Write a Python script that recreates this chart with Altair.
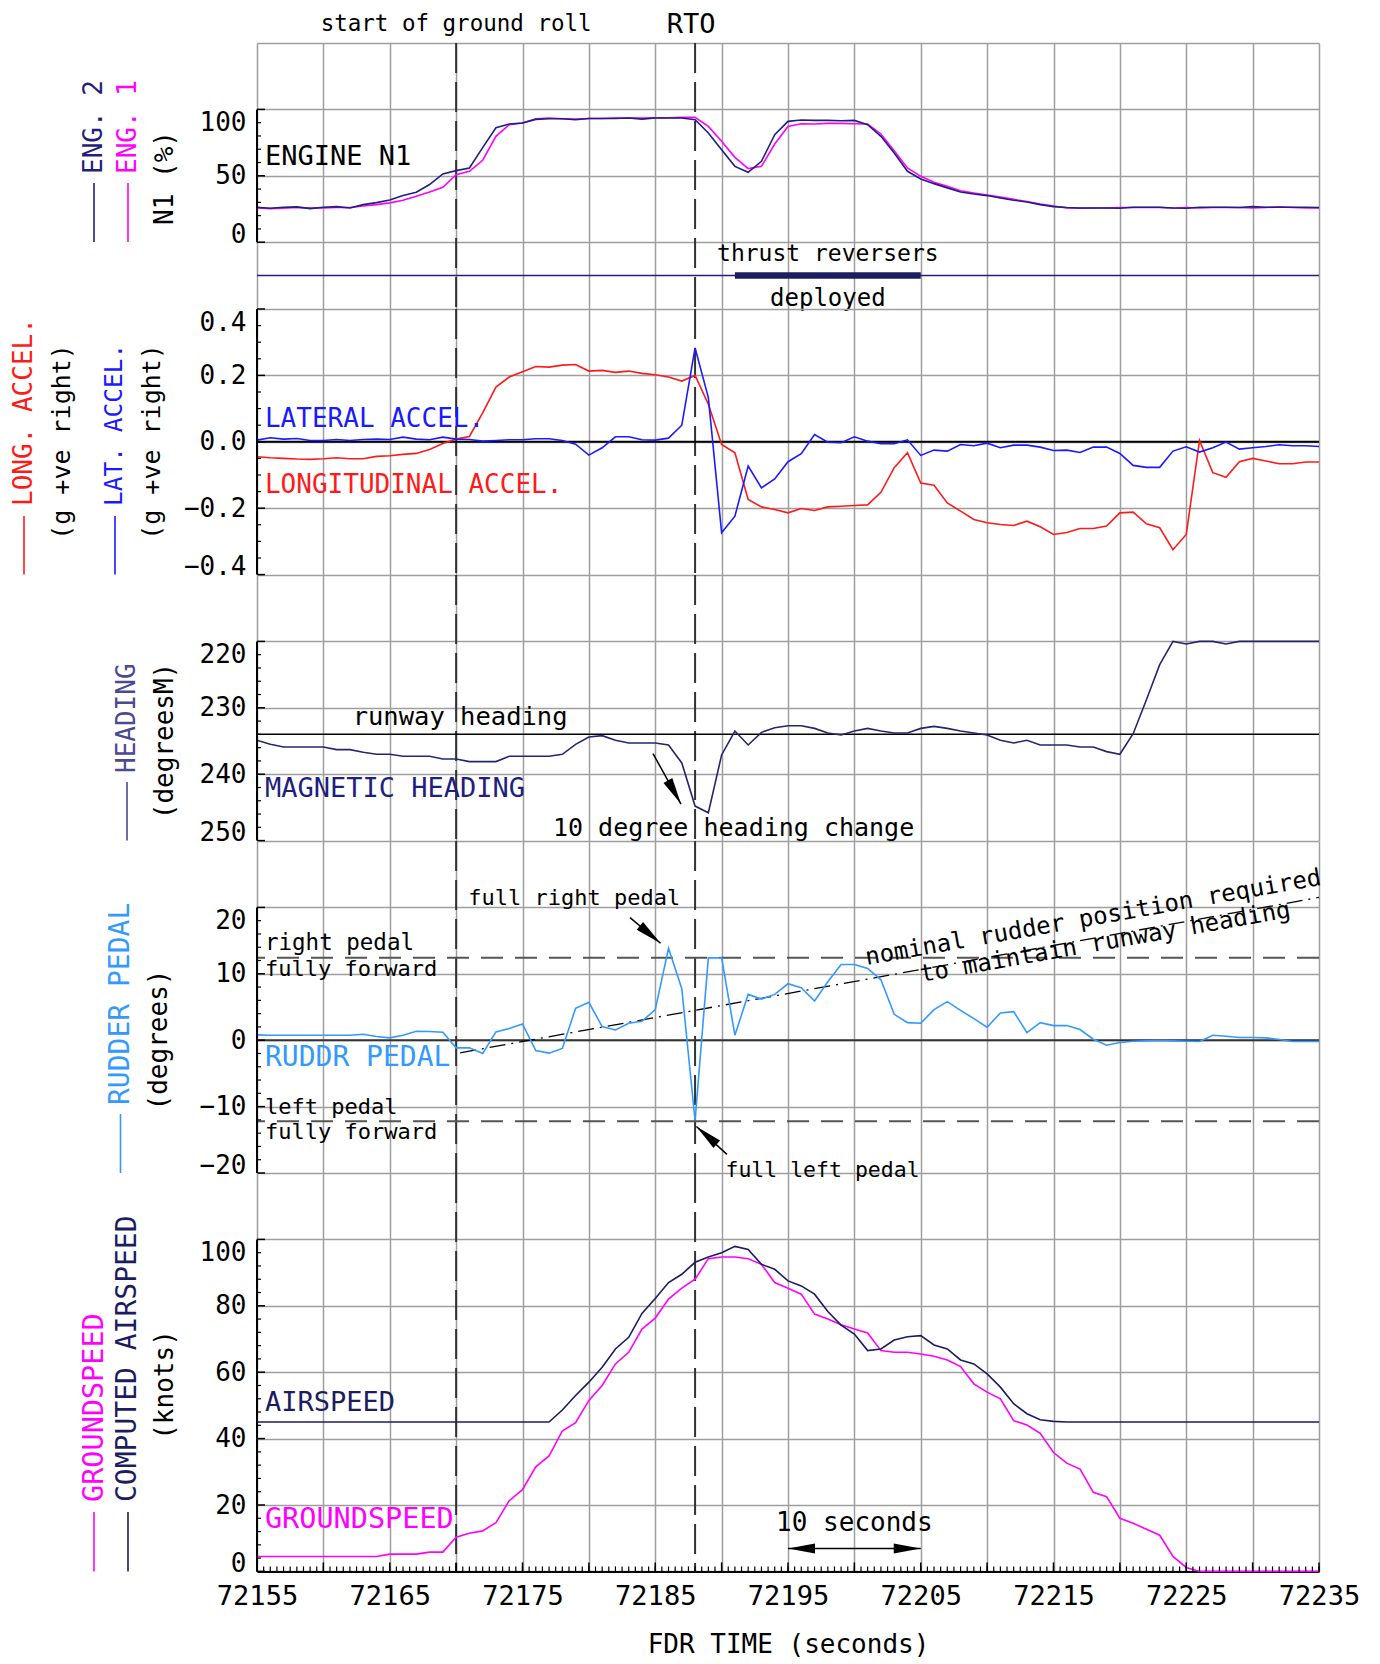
import altair as alt
import pandas as pd

# ---------------- data (1 s FDR samples) ----------------
t = list(range(72155, 72236))

eng1_n1 = [25.8, 25.3, 25.6, 26.1, 25.8, 25.8, 26.1, 26.1, 27.3, 28.3,
           29.6, 31.6, 34.6, 37.8, 41.4, 50.9, 53.4, 61.7, 79.7, 88.5,
           89.7, 93.0, 93.5, 93.0, 92.7, 93.2, 93.2, 93.5, 93.5, 93.5,
           93.7, 93.7, 94.0, 94.0, 87.2, 76.0, 63.9, 55.4, 57.1, 73.9,
           87.2, 89.2, 89.0, 89.5, 89.5, 89.2, 89.0, 81.5, 68.9, 55.9,
           49.6, 45.1, 42.1, 38.8, 37.1, 35.6, 34.1, 32.3, 30.6, 28.8,
           27.3, 25.8, 25.6, 25.8, 25.8, 26.1, 26.1, 26.1, 26.1, 25.8,
           26.1, 25.8, 26.1, 26.1, 26.1, 25.8, 26.1, 26.6, 26.1, 25.8,
           25.8]
eng2_n1 = [26.3, 25.6, 26.3, 26.6, 25.3, 26.3, 26.8, 25.8, 28.3, 29.8,
           31.8, 35.1, 37.6, 43.4, 51.4, 53.9, 55.9, 71.2, 86.2, 89.0,
           89.7, 92.5, 93.0, 93.0, 92.2, 93.2, 93.2, 93.2, 93.5, 92.7,
           93.5, 93.5, 93.5, 92.2, 82.2, 69.7, 57.1, 52.6, 60.9, 81.0,
           91.0, 92.0, 91.7, 91.7, 91.5, 91.7, 88.5, 79.7, 67.2, 53.4,
           47.6, 44.1, 40.9, 37.8, 36.3, 35.1, 33.3, 31.6, 30.3, 28.3,
           26.8, 26.1, 25.8, 25.8, 25.8, 25.6, 26.3, 26.3, 26.3, 25.8,
           25.6, 26.3, 26.3, 26.3, 26.1, 26.8, 26.3, 26.3, 26.3, 26.3,
           26.1]
long_accel = [-0.045, -0.048, -0.050, -0.052, -0.053, -0.051, -0.048, -0.051, -0.051, -0.044,
              -0.042, -0.038, -0.035, -0.023, -0.005, 0.008, 0.016, 0.087, 0.165, 0.195,
              0.211, 0.227, 0.225, 0.231, 0.233, 0.213, 0.215, 0.209, 0.213, 0.206,
              0.202, 0.195, 0.183, 0.200, 0.113, -0.008, -0.033, -0.174, -0.196, -0.204,
              -0.214, -0.201, -0.207, -0.196, -0.194, -0.192, -0.190, -0.152, -0.078, -0.033,
              -0.124, -0.131, -0.184, -0.209, -0.234, -0.244, -0.249, -0.252, -0.239, -0.256,
              -0.279, -0.273, -0.261, -0.261, -0.254, -0.214, -0.212, -0.247, -0.259, -0.325,
              -0.279, 0.004, -0.093, -0.107, -0.060, -0.050, -0.058, -0.066, -0.066, -0.061,
              -0.061]
lat_accel = [0.005, 0.012, 0.008, 0.010, 0.004, 0.004, 0.007, 0.004, 0.007, 0.008,
             0.007, 0.014, 0.008, 0.006, 0.014, 0.008, 0.007, 0.002, 0.004, 0.006,
             0.006, 0.009, 0.009, 0.004, -0.007, -0.040, -0.018, 0.015, 0.015, 0.006,
             0.005, 0.011, 0.050, 0.283, 0.133, -0.274, -0.224, -0.073, -0.139, -0.112,
             -0.060, -0.036, 0.022, -0.001, -0.003, 0.015, 0.002, -0.006, -0.006, 0.006,
             -0.041, -0.025, -0.028, -0.008, -0.012, -0.004, -0.018, -0.010, -0.010, -0.016,
             -0.026, -0.025, -0.032, -0.016, -0.016, -0.035, -0.071, -0.077, -0.077, -0.028,
             -0.015, -0.031, -0.018, -0.001, -0.022, -0.018, -0.014, -0.009, -0.012, -0.012,
             -0.014]
mag_heading = [234.9, 235.5, 235.9, 235.9, 235.9, 235.9, 236.3, 236.3, 236.7, 237.0,
               237.0, 237.3, 237.3, 237.3, 237.7, 237.7, 238.1, 238.1, 238.1, 237.3,
               237.3, 237.3, 237.3, 237.0, 235.5, 234.4, 234.2, 234.9, 235.3, 235.3,
               235.3, 235.6, 238.3, 244.8, 245.8, 237.1, 233.5, 235.6, 233.7, 233.0,
               232.7, 232.7, 233.1, 233.8, 234.1, 233.5, 233.1, 233.5, 233.8, 233.8,
               233.1, 232.8, 233.1, 233.5, 233.8, 234.1, 234.9, 235.3, 234.9, 235.6,
               235.6, 235.6, 235.9, 235.9, 236.6, 237.0, 233.9, 228.8, 223.5, 220.0,
               220.4, 220.0, 220.0, 220.4, 220.0, 220.0, 220.0, 220.0, 220.0, 220.0,
               220.0]
rudder_pedal = [0.8, 0.75, 0.75, 0.75, 0.75, 0.75, 0.75, 0.75, 0.9, 0.55,
                0.35, 0.75, 1.35, 1.3, 1.2, -1.15, -1.15, -2.0, 1.25, 1.75,
                2.45, -1.55, -1.95, -1.25, 4.8, 5.7, 2.05, 1.55, 2.55, 2.85,
                4.6, 13.85, 7.75, -12.1, 12.4, 12.4, 0.75, 6.9, 6.2, 6.9,
                8.5, 7.9, 5.9, 8.8, 11.4, 11.4, 10.8, 9.1, 3.9, 2.65,
                2.55, 4.6, 5.8, 4.5, 3.25, 1.95, 4.1, 4.3, 1.15, 2.65,
                2.2, 2.2, 1.6, 0.15, -0.75, -0.35, -0.15, -0.1, -0.05, -0.1,
                -0.15, -0.2, 0.75, 0.6, 0.4, 0.4, 0.35, 0.1, -0.2, -0.2,
                -0.2]
airspeed = [45.0, 45.0, 45.0, 45.0, 45.0, 45.0, 45.0, 45.0, 45.0, 45.0,
            45.0, 45.0, 45.0, 45.0, 45.0, 45.0, 45.0, 45.0, 45.0, 45.0,
            45.0, 45.0, 45.0, 48.6, 53.0, 57.0, 61.5, 67.0, 70.5, 77.7,
            82.2, 87.0, 89.5, 93.1, 94.7, 96.0, 97.9, 97.0, 92.5, 91.0,
            87.5, 86.0, 83.5, 78.3, 74.2, 71.5, 66.5, 67.0, 69.7, 70.7,
            71.0, 68.2, 67.0, 63.7, 62.5, 59.5, 55.5, 50.5, 47.5, 45.7,
            45.2, 45.0, 45.0, 45.0, 45.0, 45.0, 45.0, 45.0, 45.0, 45.0,
            45.0, 45.0, 45.0, 45.0, 45.0, 45.0, 45.0, 45.0, 45.0, 45.0,
            45.0]
groundspeed = [4.5, 4.5, 4.5, 4.5, 4.5, 4.5, 4.5, 4.5, 4.5, 4.5,
               5.2, 5.2, 5.2, 5.8, 5.8, 10.3, 11.5, 12.2, 14.7, 21.3,
               24.6, 31.5, 34.8, 42.3, 44.8, 51.5, 56.0, 62.5, 66.0, 73.0,
               76.3, 82.0, 85.3, 88.0, 94.2, 94.7, 94.7, 94.2, 92.5, 87.0,
               85.3, 83.5, 77.5, 76.0, 74.3, 73.0, 71.8, 66.5, 66.0, 66.0,
               65.5, 64.8, 63.7, 61.7, 56.5, 54.0, 52.0, 45.4, 44.1, 41.6,
               35.8, 32.6, 30.8, 23.8, 22.5, 16.0, 14.5, 12.7, 10.9, 4.5,
               1.2, 0.0, 0.0, 0.0, 0.0, 0.0, 0.0, 0.0, 0.0, 0.0,
               0.0]

# events / reference values
event_t = [72170, 72188]
event_labels = ["start of ground roll", "RTO"]
event_label_t = [72170, 72187.7]
reverser_t = [72191, 72205]
reverser_level = -25
runway_heading = 234.0
pedal_full_right = 12.4
pedal_full_left = -12.2
nominal_t = [72170.3, 72235]
nominal_v = [-1.9, 21.5]

# ---------------- style ----------------
FONT = "DejaVu Sans Mono"
ROW = 66.4
W = 1062
T0, T1 = 72155, 72235
TL = 72155.6  # left-aligned annotation position
GRIDC = "#9e9e9e"
NAVY = "#1f1f80"
MAGENTA = "#ff00ff"
RED = "#ff1a1a"
BLUE = "#1a1aff"
LBLUE = "#3399ff"
HNAVY = "#26266e"
HTITLE = "#4a4a90"
ANAVY = "#1c1c60"
ARROW_SHAPE = "M0,0L0.37,2L-0.37,2Z"

X_GRID = list(range(T0, T1 + 1, 5))
X_MINOR = [T0 + 0.5 * i for i in range(161)]

xs = alt.Scale(domain=[T0, T1], nice=False, zero=False)


def xaxis(bottom):
    if bottom:
        return alt.Axis(values=X_GRID, grid=True, gridColor=GRIDC, gridWidth=1.5,
                        domain=True, domainColor="black", domainWidth=2, ticks=False,
                        labels=True, labelExpr="datum.value % 10 == 5 ? datum.label : ''",
                        format="d", labelFont=FONT, labelFontSize=27, labelColor="black",
                        labelPadding=12, labelFlush=False, labelOverlap=False,
                        title="FDR TIME (seconds)", titleFont=FONT, titleFontSize=26,
                        titleFontWeight="normal", titleColor="black", titlePadding=22)
    return alt.Axis(values=X_GRID, grid=True, gridColor=GRIDC, gridWidth=1.5,
                    domain=False, ticks=False, labels=False, title=None)


def yaxis(s):
    return alt.Axis(values=s["grid"], grid=True, gridColor=GRIDC, gridWidth=1.5,
                    domain=False, ticks=False,
                    labelExpr=f"indexof({s['labels']}, datum.value) >= 0 ? datum.label : ''",
                    format=s["fmt"], labelFont=FONT, labelFontSize=26, labelColor="black",
                    labelPadding=11, labelFlush=False, labelOverlap=False,
                    labelBaseline={"condition": [
                        {"test": f"datum.value == {s['top']}", "value": "top"},
                        {"test": f"datum.value == {s['bottom']}", "value": "alphabetic"}],
                        "value": "middle"},
                    title=None)


def vtitle(label, px, py, color, align="left", size=26):
    df = pd.DataFrame({"label": [label]})
    return alt.Chart(df).mark_text(angle=270, align=align, baseline="middle", font=FONT,
                                   fontSize=size, color=color).encode(
        x=alt.value(px), y=alt.value(py), text="label:N")


def vbar(px, py1, py2, color):
    df = pd.DataFrame({"k": [0]})
    return alt.Chart(df).mark_rule(color=color, strokeWidth=1.6).encode(
        x=alt.value(px), y=alt.value(py1), y2=alt.value(py2))


def annot(X, Y, rows, align, angle=0):
    df = pd.DataFrame(rows, columns=["label", "t", "v", "size", "color"])
    return alt.Chart(df).mark_text(align=align, baseline="middle", font=FONT, angle=angle).encode(
        x=X("t"), y=Y("v"), text="label:N",
        size=alt.Size("size:Q", scale=None), color=alt.Color("color:N", scale=None))


def arrow(X, Y, t1, v1, t2, v2, ang):
    df = pd.DataFrame({"t1": [t1], "v1": [v1], "t2": [t2], "v2": [v2]})
    line = alt.Chart(df).mark_rule(color="black", strokeWidth=1.5).encode(
        x=X("t1"), y=Y("v1"), x2=alt.X2("t2"), y2=alt.Y2("v2"))
    head = alt.Chart(df).mark_point(shape=ARROW_SHAPE, filled=True, size=729, angle=ang,
                                    color="black", opacity=1, strokeWidth=0).encode(
        x=X("t2"), y=Y("v2"))
    return [line, head]


def panel(s, extra, bottom=False):
    ys = alt.Scale(domain=s["domain"], nice=False, zero=False, reverse=s["reverse"])
    xax = xaxis(bottom)
    yax = yaxis(s)
    X = lambda f: alt.X(f, type="quantitative", scale=xs, axis=xax)
    Y = lambda f: alt.Y(f, type="quantitative", scale=ys, axis=yax)
    h = s["rows"] * ROW
    layers = []
    layers.append(alt.Chart(pd.DataFrame({"t": event_t})).mark_rule(
        color="#333333", strokeWidth=2, strokeDash=[30, 9]).encode(x=X("t")))
    layers += extra(X, Y, h)
    layers.append(alt.Chart(pd.DataFrame({"lo": [s["axis"][0]], "hi": [s["axis"][1]]})).mark_rule(
        color="black", strokeWidth=2).encode(x=alt.value(0), y=Y("lo"), y2=alt.Y2("hi")))
    layers.append(alt.Chart(pd.DataFrame({"v": s["major"]})).mark_rule(
        color="black", strokeWidth=1.5).encode(x=alt.value(0), x2=alt.value(8), y=Y("v")))
    layers.append(alt.Chart(pd.DataFrame({"v": s["minor"]})).mark_rule(
        color="black", strokeWidth=1.2).encode(x=alt.value(0), x2=alt.value(4), y=Y("v")))
    if bottom:
        layers.append(alt.Chart(pd.DataFrame({"t": X_MINOR})).mark_rule(
            color="black", strokeWidth=1.2).encode(x=X("t"), y=alt.value(h), y2=alt.value(h - 5)))
        layers.append(alt.Chart(pd.DataFrame({"t": X_GRID})).mark_rule(
            color="black", strokeWidth=1.5).encode(x=X("t"), y=alt.value(h), y2=alt.value(h - 9)))
    return alt.layer(*layers).properties(width=W, height=h)


# ---------------- panel 1 : N1 ----------------
S1 = dict(domain=[-50, 150], rows=4, grid=[0, 50, 100, 150], labels=[0, 50, 100], fmt="d",
          top=100, bottom=0, axis=[0, 100], major=[0, 50, 100],
          minor=[10, 20, 30, 40, 60, 70, 80, 90], reverse=False)


def p1_layers(X, Y, h):
    d = pd.DataFrame({"t": t, "e1": eng1_n1, "e2": eng2_n1})
    L = []
    L.append(alt.Chart(d).mark_line(color=MAGENTA, strokeWidth=1.6).encode(x=X("t"), y=Y("e1")))
    L.append(alt.Chart(d).mark_line(color=NAVY, strokeWidth=1.6).encode(x=X("t"), y=Y("e2")))
    L.append(alt.Chart(pd.DataFrame({"v": [reverser_level]})).mark_rule(
        color=NAVY, strokeWidth=1.5).encode(y=Y("v")))
    L.append(alt.Chart(pd.DataFrame({"t1": [reverser_t[0]], "t2": [reverser_t[1]], "v": [reverser_level]}))
             .mark_rule(color=ANAVY, strokeWidth=6.5).encode(x=X("t1"), x2=alt.X2("t2"), y=Y("v")))
    L.append(annot(X, Y, [("ENGINE N1", TL, 64.1, 27, "black")], "left"))
    L.append(annot(X, Y, [("thrust reversers", 72198.0, -9.0, 23, "black"),
                          ("deployed", 72198.0, -43.0, 24, "black")], "center"))
    ev = pd.DataFrame({"t": event_label_t, "label": event_labels})
    L.append(alt.Chart(ev.iloc[[0]]).mark_text(font=FONT, fontSize=22.5, align="center", baseline="middle",
                                               color="black").encode(x=X("t"), y=alt.value(-19), text="label:N"))
    L.append(alt.Chart(ev.iloc[[1]]).mark_text(font=FONT, fontSize=27, align="center", baseline="middle",
                                               color="black").encode(x=X("t"), y=alt.value(-18), text="label:N"))
    L += [vbar(-163, 140, 199, NAVY), vtitle("ENG. 2", -163, 131, NAVY),
          vbar(-129, 140, 199, MAGENTA), vtitle("ENG. 1", -129, 131, MAGENTA),
          vtitle("N1 (%)", -92, 135, "black", align="center")]
    return L


# ---------------- panel 2 : accelerations ----------------
S2 = dict(domain=[-0.4, 0.4], rows=4, grid=[-0.4, -0.2, 0.0, 0.2, 0.4],
          labels=[-0.4, -0.2, 0.0, 0.2, 0.4], fmt=".1f", top=0.4, bottom=-0.4,
          axis=[-0.4, 0.4], major=[-0.4, -0.2, 0.0, 0.2, 0.4],
          minor=[-0.35, -0.3, -0.25, -0.15, -0.1, -0.05, 0.05, 0.1, 0.15, 0.25, 0.3, 0.35],
          reverse=False)


def p2_layers(X, Y, h):
    d = pd.DataFrame({"t": t, "lon": long_accel, "lat": lat_accel})
    L = []
    L.append(alt.Chart(pd.DataFrame({"v": [0.0]})).mark_rule(color="black", strokeWidth=2).encode(y=Y("v")))
    L.append(alt.Chart(d).mark_line(color=RED, strokeWidth=1.6).encode(x=X("t"), y=Y("lon")))
    L.append(alt.Chart(d).mark_line(color=BLUE, strokeWidth=1.6).encode(x=X("t"), y=Y("lat")))
    L.append(annot(X, Y, [("LATERAL ACCEL.", TL, 0.070, 26, BLUE),
                          ("LONGITUDINAL ACCEL.", TL, -0.130, 26, RED)], "left"))
    L += [vbar(-233, 207, 265.6, RED), vtitle("LONG. ACCEL.", -233, 197, RED),
          vtitle("(g +ve right)", -195, 133, "black", align="center", size=25),
          vbar(-142, 207, 265.6, BLUE), vtitle("LAT. ACCEL.", -142, 197, BLUE, size=24.5),
          vtitle("(g +ve right)", -105, 133, "black", align="center", size=25)]
    return L


# ---------------- panel 3 : heading ----------------
S3 = dict(domain=[210, 250], rows=4, grid=[220, 230, 240, 250], labels=[220, 230, 240, 250],
          fmt="d", top=220, bottom=250, axis=[220, 250], major=[220, 230, 240, 250],
          minor=[222, 224, 226, 228, 232, 234, 236, 238, 242, 244, 246, 248], reverse=True)


def p3_layers(X, Y, h):
    d = pd.DataFrame({"t": t, "hdg": mag_heading})
    L = []
    L.append(alt.Chart(pd.DataFrame({"v": [runway_heading]})).mark_rule(
        color="black", strokeWidth=1.5).encode(y=Y("v")))
    L.append(alt.Chart(d).mark_line(color=HNAVY, strokeWidth=1.6).encode(x=X("t"), y=Y("hdg")))
    L.append(annot(X, Y, [("MAGNETIC HEADING", TL, 242.2, 27, NAVY)], "left"))
    L.append(annot(X, Y, [("runway heading", 72170.3, 231.4, 25.5, "black"),
                          ("10 degree heading change", 72190.9, 248.1, 25, "black")], "center"))
    L += arrow(X, Y, 72184.83, 236.9, 72186.94, 244.5, 151)
    L += [vbar(-130, 207, 265.6, HTITLE), vtitle("HEADING", -130, 198, HTITLE),
          vtitle("(degreesM)", -92, 166, "black", align="center")]
    return L


# ---------------- panel 4 : rudder pedal ----------------
S4 = dict(domain=[-20, 30], rows=5, grid=[-20, -10, 0, 10, 20], labels=[-20, -10, 0, 10, 20],
          fmt="d", top=20, bottom=-20, axis=[-20, 20], major=[-20, -10, 0, 10, 20],
          minor=[-18, -16, -14, -12, -8, -6, -4, -2, 2, 4, 6, 8, 12, 14, 16, 18], reverse=False)


def p4_layers(X, Y, h):
    d = pd.DataFrame({"t": t, "rud": rudder_pedal})
    L = []
    L.append(alt.Chart(pd.DataFrame({"v": [0]})).mark_rule(color="#333333", strokeWidth=2).encode(y=Y("v")))
    L.append(alt.Chart(pd.DataFrame({"v": [pedal_full_right, pedal_full_left]})).mark_rule(
        color="#555555", strokeWidth=2, strokeDash=[22, 12]).encode(y=Y("v")))
    L.append(alt.Chart(pd.DataFrame({"t1": [nominal_t[0]], "v1": [nominal_v[0]],
                                     "t2": [nominal_t[1]], "v2": [nominal_v[1]]}))
             .mark_rule(color="black", strokeWidth=1.3, strokeDash=[16, 6, 2, 6]).encode(
        x=X("t1"), y=Y("v1"), x2=alt.X2("t2"), y2=alt.Y2("v2")))
    L.append(alt.Chart(d).mark_line(color=LBLUE, strokeWidth=1.6).encode(x=X("t"), y=Y("rud")))
    L.append(annot(X, Y, [("right pedal", TL, 14.6, 22.5, "black"),
                          ("fully forward", TL, 10.7, 22, "black"),
                          ("left pedal", TL, -10.1, 22, "black"),
                          ("fully forward", TL, -13.9, 22, "black"),
                          ("RUDDR PEDAL", TL, -2.65, 28, LBLUE)], "left"))
    L.append(annot(X, Y, [("full right pedal", 72178.9, 21.4, 22, "black"),
                          ("full left pedal", 72197.6, -19.7, 21.5, "black")], "center"))
    L.append(annot(X, Y, [("nominal rudder position required", 72218.0, 18.4, 24, "black"),
                          ("to maintain runway heading", 72218.9, 14.7, 24, "black")], "center",
                   angle=350))
    L += arrow(X, Y, 72183.1, 18.45, 72185.4, 14.6, 130)
    L += arrow(X, Y, 72190.4, -17.2, 72188.1, -13.0, 311)
    L += [vbar(-136.5, 273, 332, LBLUE), vtitle("RUDDER PEDAL", -136.5, 264, LBLUE, size=28),
          vtitle("(degrees)", -98.5, 199, "black", align="center")]
    return L


# ---------------- panel 5 : speeds ----------------
S5 = dict(domain=[0, 120], rows=6, grid=[0, 20, 40, 60, 80, 100], labels=[0, 20, 40, 60, 80, 100],
          fmt="d", top=100, bottom=0, axis=[0, 100], major=[0, 20, 40, 60, 80, 100],
          minor=[v for v in range(4, 100, 4) if v % 20 != 0], reverse=False)


def p5_layers(X, Y, h):
    d = pd.DataFrame({"t": t, "cas": airspeed, "gs": groundspeed})
    L = []
    L.append(alt.Chart(d).mark_line(color=MAGENTA, strokeWidth=1.6).encode(x=X("t"), y=Y("gs")))
    L.append(alt.Chart(d).mark_line(color=ANAVY, strokeWidth=1.6).encode(x=X("t"), y=Y("cas")))
    L.append(annot(X, Y, [("AIRSPEED", TL, 50.6, 27, ANAVY),
                          ("GROUNDSPEED", TL, 15.9, 28.5, MAGENTA)], "left"))
    L.append(annot(X, Y, [("10 seconds", 72200, 14.7, 26, "black")], "center"))
    df = pd.DataFrame({"t1": [72195], "t2": [72205], "v": [6.9]})
    L.append(alt.Chart(df).mark_rule(color="black", strokeWidth=1.5).encode(
        x=X("t1"), x2=alt.X2("t2"), y=Y("v")))
    L.append(alt.Chart(df).mark_point(shape=ARROW_SHAPE, filled=True, size=729, angle=270,
                                      color="black", opacity=1, strokeWidth=0).encode(x=X("t1"), y=Y("v")))
    L.append(alt.Chart(df).mark_point(shape=ARROW_SHAPE, filled=True, size=729, angle=90,
                                      color="black", opacity=1, strokeWidth=0).encode(x=X("t2"), y=Y("v")))
    L += [vbar(-163, 339, 398.4, MAGENTA), vtitle("GROUNDSPEED", -163, 329, MAGENTA, size=28.5),
          vbar(-129, 339, 398.4, ANAVY), vtitle("COMPUTED AIRSPEED", -129, 329, ANAVY, size=28),
          vtitle("(knots)", -92, 212, "black", align="center")]
    return L


chart = alt.vconcat(
    panel(S1, p1_layers),
    panel(S2, p2_layers),
    panel(S3, p3_layers),
    panel(S4, p4_layers),
    panel(S5, p5_layers, bottom=True),
    spacing=0, bounds="flush",
).properties(
    padding={"left": 2, "top": 2, "right": 4, "bottom": 4}, background="white"
).configure_view(stroke="transparent")

chart.save("out.html", embed_options={"renderer": "svg", "actions": False})
